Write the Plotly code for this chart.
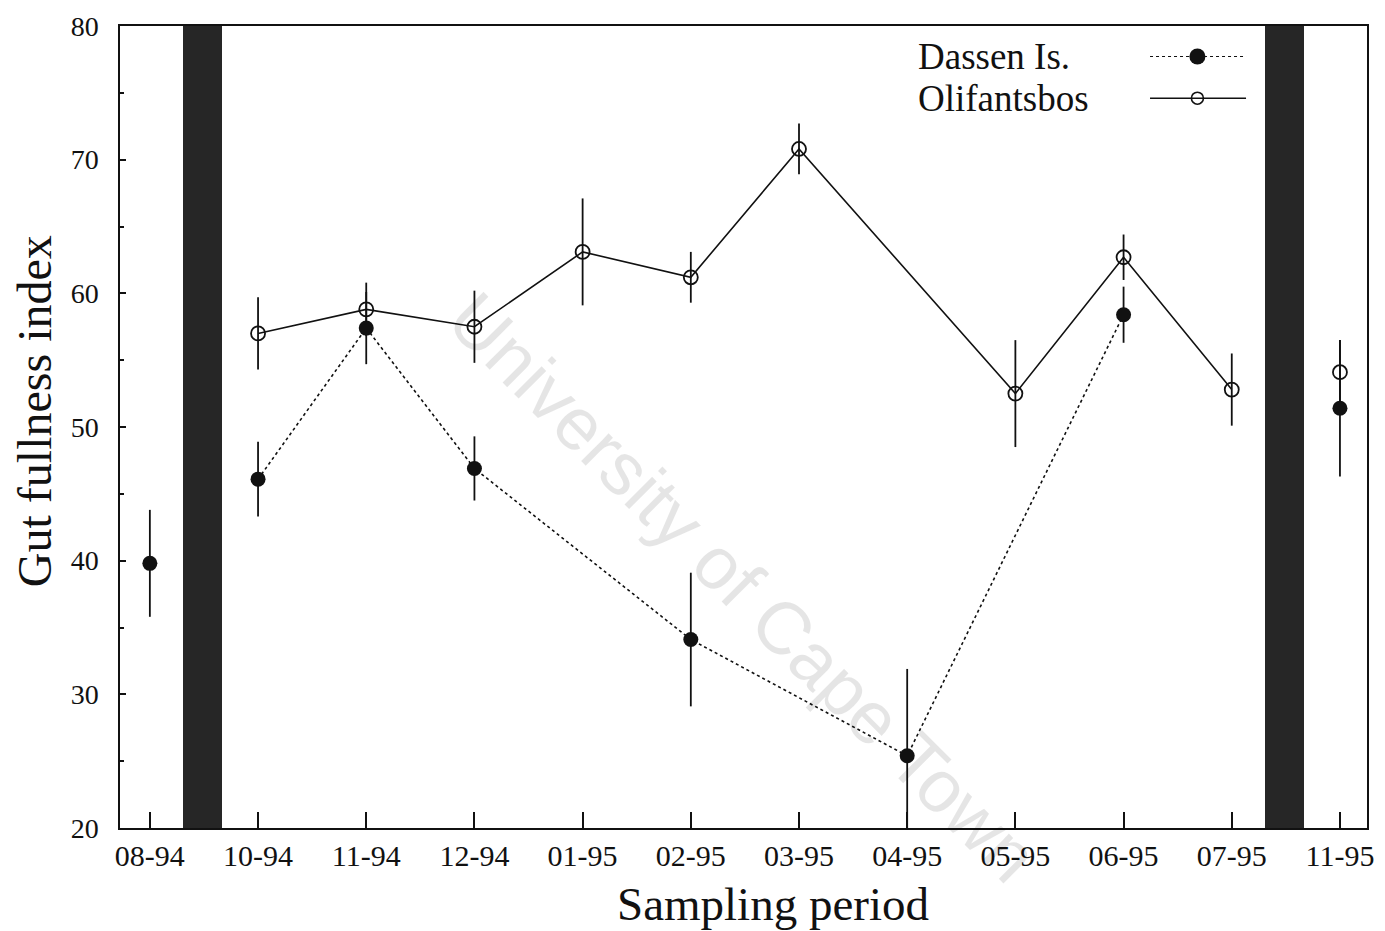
import plotly.graph_objects as go

# ---- data ----
periods = ["08-94", "10-94", "11-94", "12-94", "01-95", "02-95", "03-95",
           "04-95", "05-95", "06-95", "07-95", "11-95"]
dassen_mean = [39.8, 46.1, 57.4, 46.9, None, 34.1, None, 25.4, None, 58.4, None, 51.4]
dassen_err = [4.0, 2.8, 2.7, 2.4, None, 5.0, None, 6.5, None, 2.1, None, 5.1]
olif_mean = [None, 57.0, 58.8, 57.5, 63.1, 61.2, 70.8, None, 52.5, 62.7, 52.8, 54.1]
olif_err = [None, 2.7, 2.0, 2.7, 4.0, 1.9, 1.9, None, 4.0, 1.7, 2.7, 2.4]
# sampling breaks (black bars) lie between these periods
gap_after = [0, 10]

# ---- style ----
SERIF = "Liberation Serif"
BLACK = "#111111"
BAR = "#262626"

xpos = list(range(len(periods)))
gap_x = [g + 0.49 for g in gap_after]

fig = go.Figure()

# black bars marking sampling breaks
fig.add_trace(go.Bar(x=gap_x, y=[60] * len(gap_x), base=[20] * len(gap_x),
                     width=0.36, marker=dict(color=BAR, line=dict(width=0)),
                     showlegend=False, hoverinfo="skip"))

# split into segments separated by the breaks
bounds = [-1] + gap_after + [len(periods) - 1]
segments = [(bounds[i] + 1, bounds[i + 1]) for i in range(len(bounds) - 1)]


def seg_data(vals, errs, a, b):
    xs, ys, es = [], [], []
    for i in range(a, b + 1):
        if vals[i] is not None:
            xs.append(xpos[i]); ys.append(vals[i]); es.append(errs[i])
    return xs, ys, es


for a, b in segments:
    xs, ys, es = seg_data(olif_mean, olif_err, a, b)
    if xs:
        fig.add_trace(go.Scatter(
            x=xs, y=ys, mode="lines+markers", connectgaps=True,
            line=dict(color=BLACK, width=1.6, dash="solid"),
            marker=dict(symbol="circle-open", size=14, color=BLACK, line=dict(width=1.8)),
            error_y=dict(type="data", array=es, visible=True, color=BLACK,
                         thickness=1.8, width=0),
            showlegend=False))
for a, b in segments:
    xs, ys, es = seg_data(dassen_mean, dassen_err, a, b)
    if xs:
        fig.add_trace(go.Scatter(
            x=xs, y=ys, mode="lines+markers", connectgaps=True,
            line=dict(color=BLACK, width=1.6, dash="dot"),
            marker=dict(symbol="circle", size=15, color=BLACK),
            error_y=dict(type="data", array=es, visible=True, color=BLACK,
                         thickness=1.8, width=0),
            showlegend=False))

# custom legend (text left, sample right) on an overlay axis
leg_y = [0.962, 0.910]
leg_x0, leg_xm, leg_x1 = 0.826, 0.864, 0.903
fig.add_trace(go.Scatter(x=[leg_x0, leg_xm, leg_x1], y=[leg_y[0]] * 3, xaxis="x2", yaxis="y2",
                         mode="lines", line=dict(color=BLACK, width=1.2, dash="dot"),
                         showlegend=False, hoverinfo="skip"))
fig.add_trace(go.Scatter(x=[leg_xm], y=[leg_y[0]], xaxis="x2", yaxis="y2", mode="markers",
                         marker=dict(symbol="circle", size=16, color=BLACK),
                         showlegend=False, hoverinfo="skip"))
fig.add_trace(go.Scatter(x=[leg_x0, leg_xm, leg_x1], y=[leg_y[1]] * 3, xaxis="x2", yaxis="y2",
                         mode="lines", line=dict(color=BLACK, width=1.5),
                         showlegend=False, hoverinfo="skip"))
fig.add_trace(go.Scatter(x=[leg_xm], y=[leg_y[1]], xaxis="x2", yaxis="y2", mode="markers",
                         marker=dict(symbol="circle-open", size=12, color=BLACK, line=dict(width=1.6)),
                         showlegend=False, hoverinfo="skip"))

annotations = [
    dict(text="Dassen Is.", x=0.638, y=leg_y[0], xref="paper", yref="paper",
         xanchor="left", yanchor="middle", showarrow=False,
         font=dict(family=SERIF, size=37, color=BLACK)),
    dict(text="Olifantsbos", x=0.638, y=leg_y[1], xref="paper", yref="paper",
         xanchor="left", yanchor="middle", showarrow=False,
         font=dict(family=SERIF, size=37, color=BLACK)),
    # axis titles
    dict(text="Sampling period", x=0.524, y=-0.095, xref="paper", yref="paper",
         xanchor="center", yanchor="middle", showarrow=False,
         font=dict(family=SERIF, size=47, color=BLACK)),
    dict(text="Gut fullness index", x=-0.068, y=0.52, xref="paper", yref="paper",
         xanchor="center", yanchor="middle", showarrow=False, textangle=-90,
         font=dict(family=SERIF, size=48, color=BLACK)),
    # scan watermark
    dict(text="University of Cape Town", x=0.5, y=0.30, xref="paper", yref="paper",
         xanchor="center", yanchor="middle", showarrow=False, textangle=45,
         font=dict(family="Liberation Sans", size=74, color="rgba(0,0,0,0.10)")),
]

fig.update_layout(
    width=1385, height=931, autosize=False,
    margin=dict(l=120, r=11, t=23, b=103),
    plot_bgcolor="white", paper_bgcolor="white",
    showlegend=False, bargap=0,
    annotations=annotations,
    xaxis=dict(range=[-0.276, 11.25], tickmode="array", tickvals=xpos, ticktext=periods,
               ticks="inside", ticklen=16, tickwidth=1.5, tickcolor=BLACK,
               showline=True, linecolor=BLACK, linewidth=1.5, mirror=True,
               showgrid=False, zeroline=False,
               tickfont=dict(family=SERIF, size=30, color=BLACK)),
    yaxis=dict(range=[20, 80], tickmode="linear", tick0=20, dtick=10,
               ticks="inside", ticklen=6, tickwidth=1.5, tickcolor=BLACK,
               ticklabelstandoff=14,
               minor=dict(ticks="inside", ticklen=4, dtick=5, tickcolor=BLACK, showgrid=False),
               showline=True, linecolor=BLACK, linewidth=1.5, mirror=True,
               showgrid=False, zeroline=False,
               tickfont=dict(family=SERIF, size=28, color=BLACK)),
    xaxis2=dict(overlaying="x", range=[0, 1], visible=False),
    yaxis2=dict(overlaying="y", range=[0, 1], visible=False),
)

fig.write_html("out.html")
